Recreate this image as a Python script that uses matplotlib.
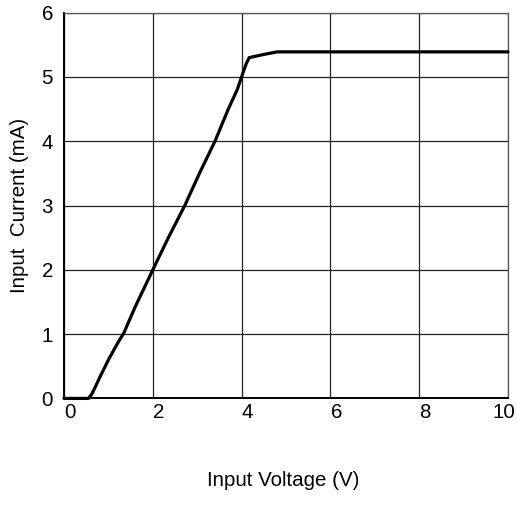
import matplotlib
matplotlib.use("Agg")
import matplotlib.pyplot as plt
import matplotlib.transforms as mtransforms

plt.rcParams['font.family'] = ['Liberation Sans', 'DejaVu Sans']

# 输入电压 / 输入电流 曲线数据
voltage = [0, 0.55, 0.62, 0.7, 0.8, 1.0, 1.2, 1.35, 1.6, 2.0, 2.35, 2.72, 3.05, 3.4,
           3.7, 3.9, 4.0, 4.1, 4.17, 4.5, 4.8, 10]
current = [0, 0, 0.06, 0.17, 0.32, 0.6, 0.85, 1.02, 1.42, 2.0, 2.5, 3.0, 3.5, 4.0,
           4.5, 4.8, 5.0, 5.2, 5.30, 5.35, 5.39, 5.39]

x_ticks = [0, 2, 4, 6, 8, 10]
y_ticks = [0, 1, 2, 3, 4, 5, 6]

fig = plt.figure(figsize=(5.17, 5.27), dpi=100)
ax = fig.add_axes([0.1238, 0.244, 0.8588, 0.732])

ax.plot(voltage, current, color='black', linewidth=2.3, solid_joinstyle='round',
        solid_capstyle='round', zorder=3, clip_on=False)

ax.set_xlim(0, 10)
ax.set_ylim(0, 6)
ax.set_xticks(x_ticks)
ax.set_yticks(y_ticks)
ax.tick_params(length=0, labelsize=14.8, pad=3)
ax.tick_params(axis='y', pad=8)
ax.grid(True, color='#222222', linewidth=0.9)

for side in ['top', 'right']:
    ax.spines[side].set_color('#555555')
    ax.spines[side].set_linewidth(0.9)
for side in ['left', 'bottom']:
    ax.spines[side].set_linewidth(1.4)

# x 刻度标签略微向右偏移, 10 向左
for lab in ax.get_xticklabels():
    dx = -4 if lab.get_text() == '10' else 6
    lab.set_transform(lab.get_transform() +
                      mtransforms.ScaledTranslation(dx / 100, 0, fig.dpi_scale_trans))

ax.set_ylabel('Input  Current (mA)', fontsize=14.8, labelpad=9)
fig.text(0.548, 1 - 481 / 527, 'Input Voltage (V)', ha='center', va='center', fontsize=14.8)

plt.savefig('out.png', dpi=100)
